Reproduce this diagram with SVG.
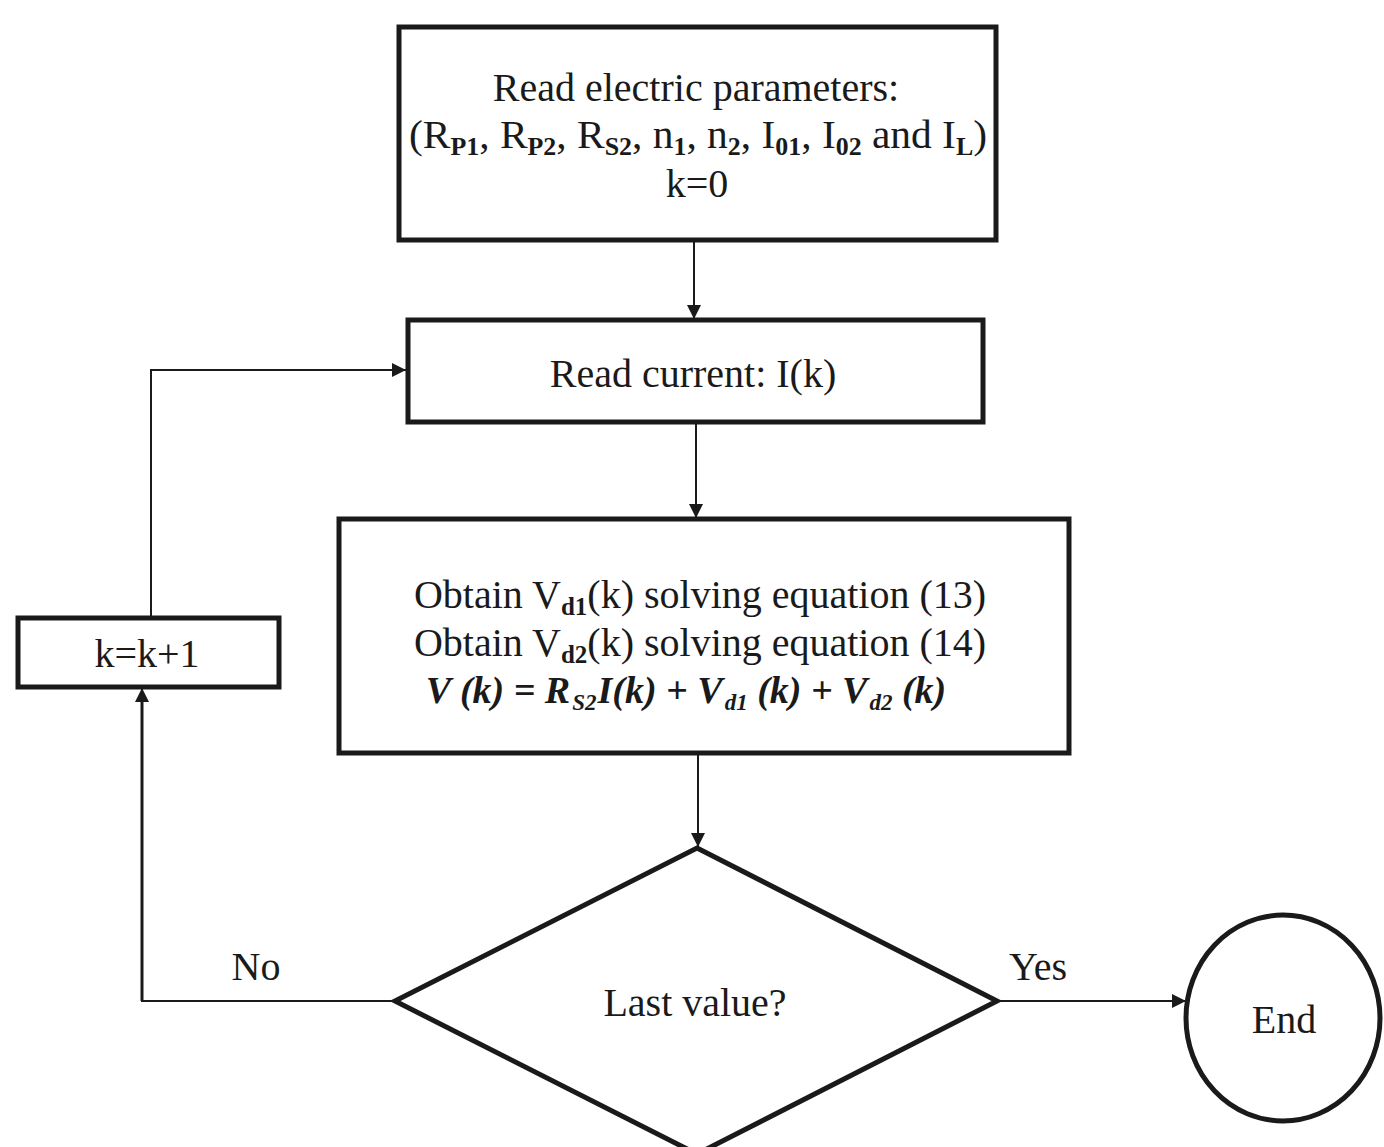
<svg xmlns="http://www.w3.org/2000/svg" width="1384" height="1147" viewBox="0 0 1384 1147">
<defs>
<marker id="arr" viewBox="0 0 10 10" refX="10" refY="5" markerWidth="14" markerHeight="14" markerUnits="userSpaceOnUse" orient="auto"><path d="M0,0 L10,5 L0,10 z" fill="#1a1a1a"/></marker>
<style>
.box{fill:#fff;stroke:#1a1a1a;stroke-width:5}
.t{font-family:"Liberation Serif","Times New Roman",serif;font-size:40px;fill:#1a1a1a;text-anchor:middle}
.sub{font-size:25px;font-weight:bold}
.eq{font-weight:bold;font-style:italic;font-size:38px}
.esub{font-size:23px}
.c{fill:none;stroke:#1a1a1a;stroke-width:2}
</style>
</defs>
<rect width="1384" height="1147" fill="#fff"/>
<g id="connectors">
<line class="c" x1="694" y1="242" x2="694" y2="319" marker-end="url(#arr)"/>
<line class="c" x1="696" y1="424" x2="696" y2="518" marker-end="url(#arr)"/>
<line class="c" x1="698" y1="755" x2="698" y2="847" marker-end="url(#arr)"/>
<polyline class="c" points="395,1001 142,1001 142,688" marker-end="url(#arr)"/>
<line x1="142" y1="1001" x2="142" y2="700" stroke="#1a1a1a" stroke-width="3"/>
<polyline class="c" points="151,616 151,370 406,370" marker-end="url(#arr)"/>
<line class="c" x1="999" y1="1001" x2="1186" y2="1001" marker-end="url(#arr)"/>
<text class="t" x="256" y="980">No</text>
<text class="t" x="1038" y="980">Yes</text>
</g>
<g id="node-read-params">
<rect class="box" x="399" y="27" width="597" height="213"/>
<text class="t" x="696" y="101">Read electric parameters:</text>
<text class="t" x="698" y="148" textLength="578" lengthAdjust="spacingAndGlyphs">(R<tspan class="sub" dy="7">P1</tspan><tspan dy="-7">, R</tspan><tspan class="sub" dy="7">P2</tspan><tspan dy="-7">, R</tspan><tspan class="sub" dy="7">S2</tspan><tspan dy="-7">, n</tspan><tspan class="sub" dy="7">1</tspan><tspan dy="-7">, n</tspan><tspan class="sub" dy="7">2</tspan><tspan dy="-7">, I</tspan><tspan class="sub" dy="7">01</tspan><tspan dy="-7">, I</tspan><tspan class="sub" dy="7">02</tspan><tspan dy="-7"> and I</tspan><tspan class="sub" dy="7">L</tspan><tspan dy="-7">)</tspan></text>
<text class="t" x="697" y="197">k=0</text>
</g>
<g id="node-read-current">
<rect class="box" x="408" y="320" width="575" height="102" stroke-width="4"/>
<text class="t" x="693" y="387">Read current: I(k)</text>
</g>
<g id="node-obtain">
<rect class="box" x="339" y="519" width="730" height="234"/>
<text class="t" x="700" y="608">Obtain V<tspan class="sub" dy="7">d1</tspan><tspan dy="-7">(k) solving equation (13)</tspan></text>
<text class="t" x="700" y="656">Obtain V<tspan class="sub" dy="7">d2</tspan><tspan dy="-7">(k) solving equation (14)</tspan></text>
<text class="t eq" x="686" y="703">V (k) = R<tspan class="esub" dx="2" dy="7">S2</tspan><tspan dx="1" dy="-7">I(k) + V</tspan><tspan class="esub" dx="2" dy="7">d1</tspan><tspan dy="-7"> (k) + V</tspan><tspan class="esub" dx="2" dy="7">d2</tspan><tspan dy="-7"> (k)</tspan></text>
</g>
<g id="node-increment">
<rect class="box" x="18" y="618" width="261" height="69"/>
<text class="t" x="147" y="667">k=k+1</text>
</g>
<g id="node-decision">
<polygon class="box" points="697,848 997,1001 697,1154 395,1001"/>
<text class="t" x="695" y="1016">Last value?</text>
</g>
<g id="node-end">
<ellipse class="box" cx="1283" cy="1018" rx="97" ry="103" stroke-width="4"/>
<text class="t" x="1284" y="1033">End</text>
</g>
</svg>
